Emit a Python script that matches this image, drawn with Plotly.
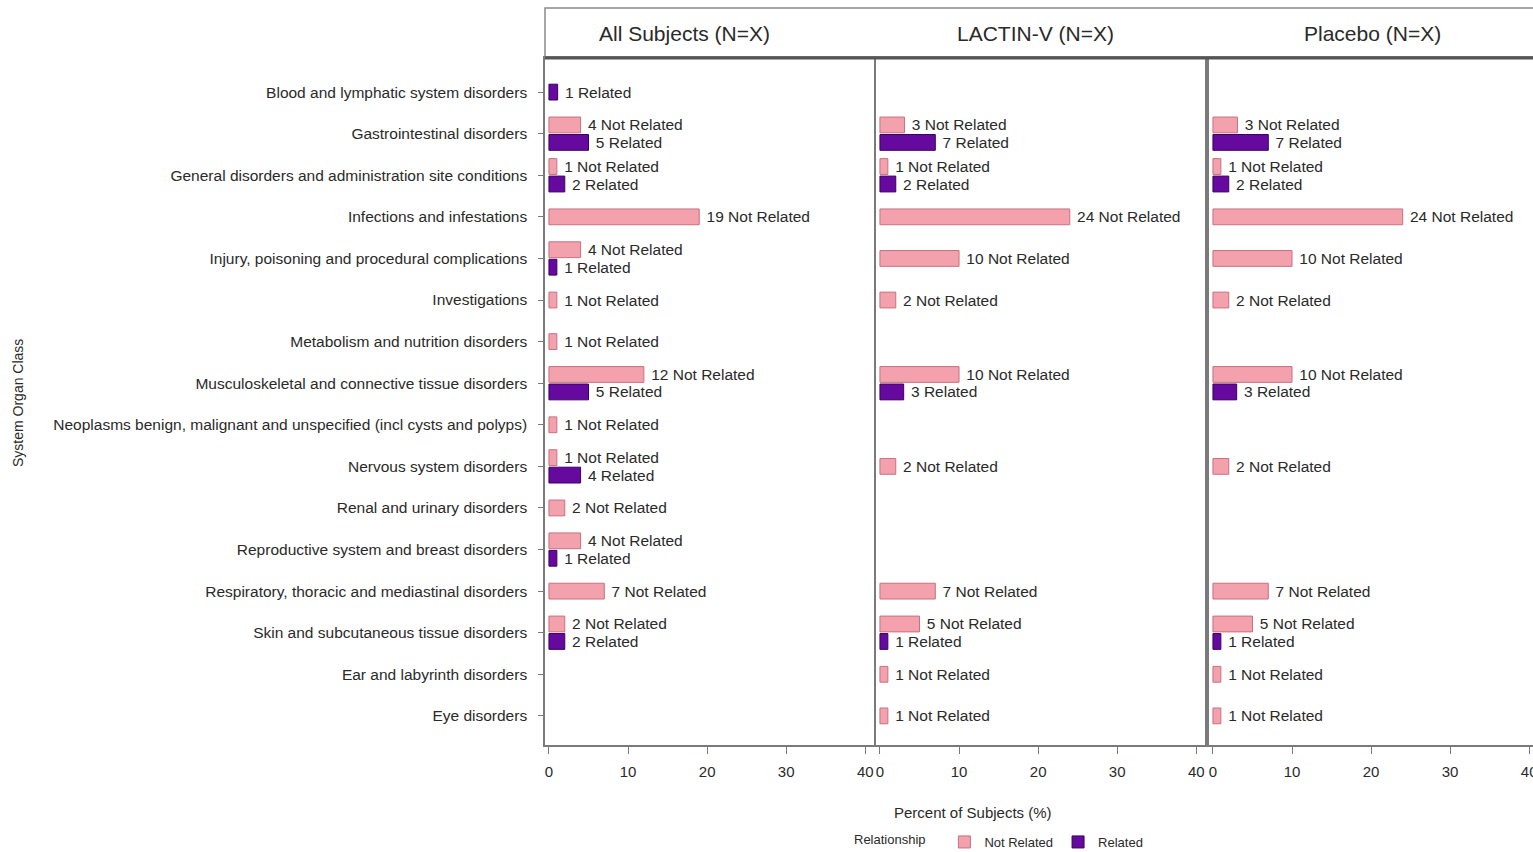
import plotly.graph_objects as go

categories = [
    "Blood and lymphatic system disorders",
    "Gastrointestinal disorders",
    "General disorders and administration site conditions",
    "Infections and infestations",
    "Injury, poisoning and procedural complications",
    "Investigations",
    "Metabolism and nutrition disorders",
    "Musculoskeletal and connective tissue disorders",
    "Neoplasms benign, malignant and unspecified (incl cysts and polyps)",
    "Nervous system disorders",
    "Renal and urinary disorders",
    "Reproductive system and breast disorders",
    "Respiratory, thoracic and mediastinal disorders",
    "Skin and subcutaneous tissue disorders",
    "Ear and labyrinth disorders",
    "Eye disorders",
]

panel_titles = ["All Subjects (N=X)", "LACTIN-V (N=X)", "Placebo (N=X)"]

# counts (labels) and percent values (bar lengths); None = no bar
all_nr_n = [None, 4, 1, 19, 4, 1, 1, 12, 1, 1, 2, 4, 7, 2, None, None]
all_r_n = [1, 5, 2, None, 1, None, None, 5, None, 4, None, 1, None, 2, None, None]
all_nr_pct = [None, 4, 1, 19, 4, 1, 1, 12, 1, 1, 2, 4, 7, 2, None, None]
all_r_pct = [1.1, 5, 2, None, 1, None, None, 5, None, 4, None, 1, None, 2, None, None]

lac_nr_n = [None, 3, 1, 24, 10, 2, None, 10, None, 2, None, None, 7, 5, 1, 1]
lac_r_n = [None, 7, 2, None, None, None, None, 3, None, None, None, None, None, 1, None, None]
lac_nr_pct = [None, 3.1, 1, 24, 10, 2, None, 10, None, 2, None, None, 7, 5, 1, 1]
lac_r_pct = [None, 7, 2, None, None, None, None, 3, None, None, None, None, None, 1, None, None]

pla_nr_n = [None, 3, 1, 24, 10, 2, None, 10, None, 2, None, None, 7, 5, 1, 1]
pla_r_n = [None, 7, 2, None, None, None, None, 3, None, None, None, None, None, 1, None, None]
pla_nr_pct = [None, 3.1, 1, 24, 10, 2, None, 10, None, 2, None, None, 7, 5, 1, 1]
pla_r_pct = [None, 7, 2, None, None, None, None, 3, None, None, None, None, None, 1, None, None]

x_ticks = [0, 10, 20, 30, 40]

panels = [
    (all_nr_n, all_r_n, all_nr_pct, all_r_pct),
    (lac_nr_n, lac_r_n, lac_nr_pct, lac_r_pct),
    (pla_nr_n, pla_r_n, pla_nr_pct, pla_r_pct),
]

NR_COLOR = "#F2A1AD"
NR_LINE = "#C9717F"
R_COLOR = "#66099E"
R_LINE = "#3A0060"
FONT = "Liberation Sans, Arial, sans-serif"
TXT = "#2a2a2a"
LBL = 15.5

OFF = 0.21
BW = 0.38

fig = go.Figure()

for p, (nr_n, r_n, nr_p, r_p) in enumerate(panels):
    xa = "x" if p == 0 else f"x{p+1}"
    ya = "y" if p == 0 else f"y{p+1}"
    nr_x, nr_y, nr_t = [], [], []
    r_x, r_y, r_t = [], [], []
    for i in range(len(categories)):
        has_nr = nr_n[i] is not None
        has_r = r_n[i] is not None
        if has_nr:
            nr_x.append(nr_p[i])
            nr_y.append(i - OFF if has_r else i)
            nr_t.append(f" {nr_n[i]} Not Related")
        if has_r:
            r_x.append(r_p[i])
            r_y.append(i + OFF if has_nr else i)
            r_t.append(f" {r_n[i]} Related")
    fig.add_trace(go.Bar(
        x=nr_x, y=nr_y, orientation="h", width=BW, text=nr_t,
        textposition="outside", constraintext="none", cliponaxis=False,
        textfont=dict(size=LBL, color=TXT, family=FONT),
        marker=dict(color=NR_COLOR, line=dict(color=NR_LINE, width=1)),
        name="Not Related", legendgroup="nr", showlegend=(p == 0),
        xaxis=xa, yaxis=ya, hoverinfo="skip",
    ))
    fig.add_trace(go.Bar(
        x=r_x, y=r_y, orientation="h", width=BW, text=r_t,
        textposition="outside", constraintext="none", cliponaxis=False,
        textfont=dict(size=LBL, color=TXT, family=FONT),
        marker=dict(color=R_COLOR, line=dict(color=R_LINE, width=1)),
        name="Related", legendgroup="r", showlegend=(p == 0),
        xaxis=xa, yaxis=ya, hoverinfo="skip",
    ))

# figure is a little wider than the window so the last panel runs off the edge
W, H = 1545, 852
ML, MR, MT, MB = 545, 0, 58, 107
PW = W - ML - MR
PH = H - MT - MB

def px(xpix):
    return (xpix - ML) / PW

def py(ypix):
    return 1 - (ypix - MT) / PH

doms = [[px(545), px(874)], [px(876), px(1205)], [px(1209), px(1541)]]
ranges = [[-0.5, 41.1], [-0.5, 41.1], [-0.5, 41.5]]

axis_common = dict(
    showgrid=False, zeroline=False, showline=True, mirror=True,
    linecolor="#7a7a7a", linewidth=1.5,
    ticks="outside", ticklen=7, tickcolor="#7a7a7a", ticklabelstandoff=5,
    tickvals=x_ticks, tickfont=dict(size=15, color=TXT, family=FONT),
)

layout = dict(
    width=W, height=H,
    margin=dict(l=ML, r=MR, t=MT, b=MB, autoexpand=False),
    paper_bgcolor="white", plot_bgcolor="white",
    font=dict(family=FONT, color=TXT),
    barmode="overlay",
    showlegend=True,
    legend=dict(
        orientation="h", x=px(1000), xanchor="center", y=py(842), yanchor="middle",
        title=dict(text="Relationship   ", side="left", font=dict(size=13, color=TXT)),
        font=dict(size=13, color=TXT), itemwidth=30, traceorder="normal",
        bgcolor="rgba(0,0,0,0)",
    ),
)

for p in range(3):
    key = "xaxis" if p == 0 else f"xaxis{p+1}"
    ykey = "yaxis" if p == 0 else f"yaxis{p+1}"
    layout[key] = dict(axis_common, domain=doms[p], range=ranges[p],
                       anchor="y" if p == 0 else f"y{p+1}")
    ycfg = dict(
        domain=[0, 1], range=[15.70, -0.82], showgrid=False, zeroline=False,
        showline=True, mirror=True, linecolor="#7a7a7a", linewidth=1.5,
        anchor="x" if p == 0 else f"x{p+1}",
    )
    if p == 0:
        ycfg.update(tickvals=list(range(len(categories))), ticktext=categories,
                    ticks="outside", ticklen=5, tickcolor="#7a7a7a",
                    ticklabelstandoff=8,
                    tickfont=dict(size=LBL, color=TXT, family=FONT))
    else:
        ycfg.update(matches="y", showticklabels=False, ticks="")
    layout[ykey] = ycfg

fig.update_layout(**layout)

# header strip
fig.add_shape(type="rect", xref="paper", yref="paper",
              x0=0, x1=1.02, y0=1, y1=py(8),
              line=dict(color="#8a8a8a", width=1.5), fillcolor="white", layer="below")
fig.add_shape(type="line", xref="paper", yref="paper",
              x0=0, x1=1.0, y0=1, y1=1, line=dict(color="#555555", width=3))

head_x = [684, 1035, 1372]
for t, hx in zip(panel_titles, head_x):
    fig.add_annotation(text=t, x=px(hx), y=py(33), xref="paper", yref="paper",
                       showarrow=False, xanchor="center", yanchor="middle",
                       font=dict(size=21, color=TXT, family=FONT))

fig.add_annotation(text="Percent of Subjects (%)", x=px(973), y=py(812),
                   xref="paper", yref="paper", showarrow=False,
                   xanchor="center", yanchor="middle",
                   font=dict(size=15, color=TXT, family=FONT))
fig.add_annotation(text="System Organ Class", x=px(18), y=py(403),
                   xref="paper", yref="paper", showarrow=False, textangle=-90,
                   xanchor="center", yanchor="middle",
                   font=dict(size=14, color=TXT, family=FONT))

fig.write_html(
    "out.html",
    config={"displayModeBar": False},
    post_script="document.body.style.margin='0px';document.body.style.overflow='hidden';",
)
